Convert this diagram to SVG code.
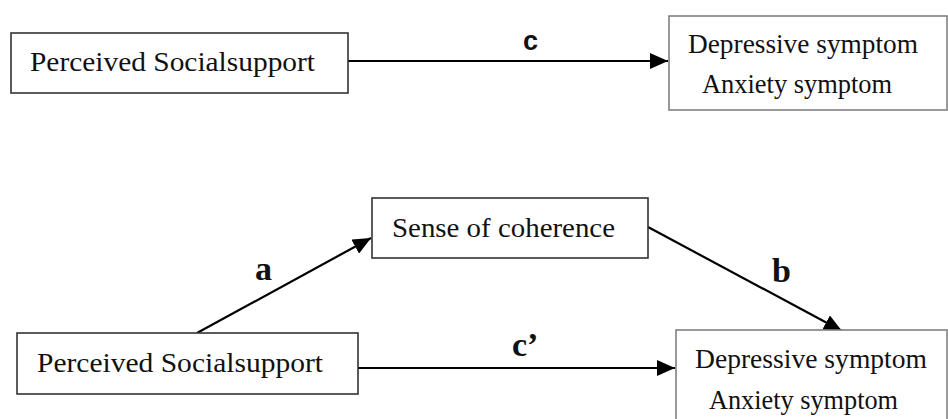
<svg xmlns="http://www.w3.org/2000/svg" width="948" height="419" viewBox="0 0 948 419">
<style>
.bg{fill:#fff}
.boxL{fill:#fff;stroke:#333;stroke-width:1.6}
.boxR{fill:#fff;stroke:#808080;stroke-width:1.6}
.t{font-family:"Liberation Serif","Times New Roman",serif;font-size:27px;fill:#111}
.lab{font-family:"Liberation Serif","Times New Roman",serif;font-weight:bold;font-size:34px;fill:#111}
.labs{font-family:"Liberation Sans",Arial,sans-serif;font-weight:bold;font-size:27px;fill:#111}
.edge{stroke:#000;stroke-width:2.2;fill:none;marker-end:url(#ah)}
</style>
<defs>
<marker id="ah" markerUnits="userSpaceOnUse" markerWidth="20" markerHeight="16" refX="18" refY="8" orient="auto">
<path d="M0,0 L18,8 L0,16 Z" fill="#000"/>
</marker>
</defs>
<rect class="bg" x="0" y="0" width="948" height="419"/>
<g id="connectors">
<line class="edge" x1="348" y1="61" x2="668" y2="61"/>
<line class="edge" x1="197" y1="333" x2="371" y2="238"/>
<line class="edge" x1="648" y1="227" x2="842" y2="331"/>
<line class="edge" x1="358" y1="368" x2="675" y2="368"/>
<text class="labs" x="523" y="50">c</text>
<text class="lab" x="255" y="280">a</text>
<text class="lab" x="772" y="282">b</text>
<text class="lab" x="512" y="356">c’</text>
</g>
<g id="pss1">
<rect class="boxL" x="11" y="33" width="337" height="60"/>
<text class="t" x="30" y="71" textLength="285" lengthAdjust="spacingAndGlyphs">Perceived Socialsupport</text>
</g>
<g id="outcome1">
<rect class="boxR" x="669" y="16" width="278" height="94"/>
<text class="t" x="688" y="53" textLength="230" lengthAdjust="spacingAndGlyphs">Depressive symptom</text>
<text class="t" x="702" y="93" textLength="190" lengthAdjust="spacingAndGlyphs">Anxiety symptom</text>
</g>
<g id="soc">
<rect class="boxL" x="372" y="198" width="276" height="60"/>
<text class="t" x="392" y="237" textLength="223" lengthAdjust="spacingAndGlyphs">Sense of coherence</text>
</g>
<g id="pss2">
<rect class="boxL" x="17" y="333" width="341" height="61"/>
<text class="t" x="37" y="372" textLength="286" lengthAdjust="spacingAndGlyphs">Perceived Socialsupport</text>
</g>
<g id="outcome2">
<rect class="boxR" x="676" y="330" width="271" height="100"/>
<text class="t" x="695" y="368" textLength="232" lengthAdjust="spacingAndGlyphs">Depressive symptom</text>
<text class="t" x="709" y="409" textLength="189" lengthAdjust="spacingAndGlyphs">Anxiety symptom</text>
</g>
</svg>
